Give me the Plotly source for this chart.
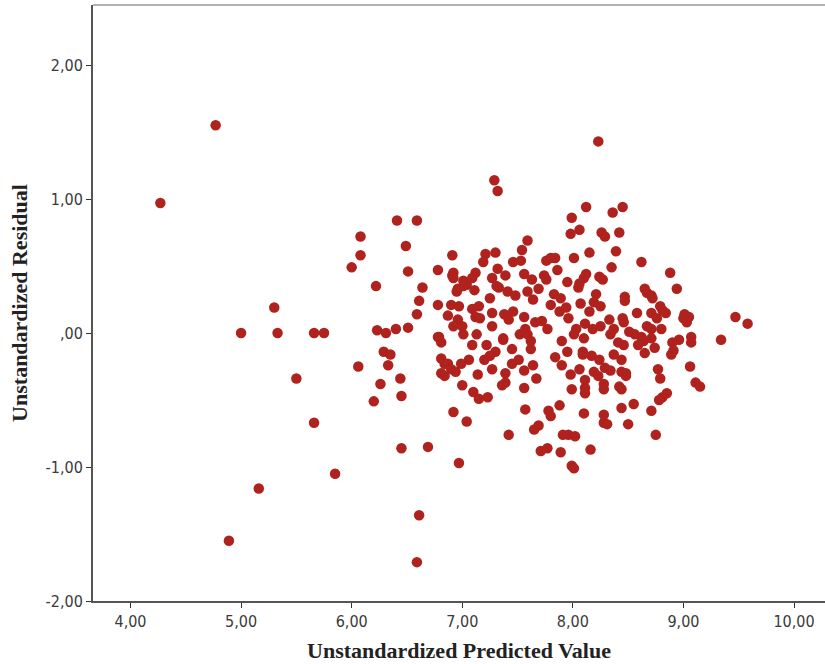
import plotly.graph_objects as go

predicted = [
    4.27, 4.77, 5.00, 5.30, 5.33, 5.66, 5.75, 5.50, 5.66, 5.85, 5.16, 4.89, 6.61, 6.59,
    8.23, 7.29, 7.32, 9.58, 9.47, 9.34, 6.97, 6.69, 6.45,
    6.00, 6.08, 6.08, 6.41, 6.59, 6.49, 6.22, 6.51, 6.64, 6.61, 6.59, 6.51, 6.40, 6.23, 6.31,
    6.06, 6.29, 6.35, 6.33, 6.26, 6.44, 6.45, 6.20,
    8.12, 8.45, 8.36, 7.99, 8.06, 7.98, 8.26, 8.29, 8.42, 7.59, 7.54, 8.39, 8.15, 8.01, 8.62,
    7.21, 7.30, 7.19, 6.91, 7.76, 7.80, 7.84, 7.46, 7.53, 6.78, 6.92, 6.92, 7.32, 7.39, 7.12,
    7.86, 8.35, 8.88, 8.12, 8.10, 8.24, 8.27, 7.74, 7.76, 7.56, 7.63, 7.27, 7.01, 7.04, 7.09,
    7.95, 8.06, 8.05, 7.69, 7.33, 6.96, 7.01, 6.95, 8.94, 8.65, 8.67, 8.71, 8.72, 8.21, 7.83,
    7.41, 7.59, 8.47, 8.47, 7.48, 7.11, 7.25, 7.64, 7.89, 7.80, 8.07, 8.19, 8.25, 6.78, 6.90,
    6.97, 7.15, 7.09, 7.27, 7.38, 7.46, 7.88, 7.94, 8.15, 8.79, 8.81, 8.84, 8.71, 9.01, 9.05,
    9.00, 9.03, 8.76, 8.58, 8.33, 8.45, 8.46, 6.87, 6.96, 7.12, 7.16, 7.42, 7.56, 7.72, 7.66,
    7.96, 8.11, 8.25, 6.92, 7.00, 7.27, 7.57, 7.77, 8.03, 8.18, 8.37, 8.51, 8.67, 8.71, 8.80,
    8.56, 8.62, 8.64, 8.71, 8.96, 9.07, 9.07, 8.90, 6.79, 6.81, 7.01, 7.13, 7.37, 7.37, 7.52,
    7.59, 7.62, 7.90, 8.01, 8.10, 8.34, 8.41, 8.46, 8.59, 8.74, 8.91, 8.89, 7.09, 7.22, 7.45,
    7.62, 7.95, 8.09, 8.09, 8.65, 8.37, 7.30, 7.25, 6.81, 6.87, 6.84, 7.06, 7.20, 7.51, 7.45,
    7.84, 8.17, 8.24, 8.44, 7.64, 6.99, 6.90, 6.94, 6.81, 6.84, 7.27, 7.56, 7.90, 8.06, 8.19,
    8.29, 8.34, 8.44, 8.48, 8.77, 9.06, 7.14, 7.39, 7.98, 8.23, 8.48, 7.67, 7.39, 8.11, 8.79,
    7.36, 7.00, 8.28, 8.42, 8.44, 9.11, 9.15, 7.56, 7.99, 8.11, 8.11, 8.28, 7.10, 7.15, 7.23,
    8.85, 8.81, 8.78, 8.55, 8.44, 7.57, 7.88, 6.92, 7.78, 7.80, 8.10, 8.28, 8.28, 8.31, 8.71,
    7.04, 8.50, 7.69, 7.65, 7.42, 7.91, 7.96, 8.02, 8.75, 7.71, 7.77, 7.89, 8.16, 7.99, 8.01,
    7.31, 6.78, 6.91,
]

residual = [
    0.97, 1.55, 0.00, 0.19, 0.00, 0.00, 0.00, -0.34, -0.67, -1.05, -1.16, -1.55, -1.36, -1.71,
    1.43, 1.14, 1.06, 0.07, 0.12, -0.05, -0.97, -0.85, -0.86,
    0.49, 0.72, 0.58, 0.84, 0.84, 0.65, 0.35, 0.46, 0.34, 0.24, 0.14, 0.04, 0.03, 0.02, 0.00,
    -0.25, -0.14, -0.16, -0.24, -0.38, -0.34, -0.47, -0.51,
    0.94, 0.94, 0.90, 0.86, 0.77, 0.74, 0.75, 0.72, 0.75, 0.69, 0.62, 0.61, 0.60, 0.56, 0.53,
    0.59, 0.60, 0.53, 0.58, 0.54, 0.56, 0.56, 0.53, 0.54, 0.47, 0.45, 0.41, 0.48, 0.43, 0.45,
    0.47, 0.49, 0.45, 0.44, 0.41, 0.42, 0.40, 0.43, 0.40, 0.44, 0.40, 0.41, 0.39, 0.36, 0.41,
    0.38, 0.37, 0.34, 0.33, 0.34, 0.33, 0.35, 0.31, 0.33, 0.33, 0.30, 0.28, 0.26, 0.29, 0.29,
    0.31, 0.31, 0.27, 0.24, 0.28, 0.32, 0.26, 0.25, 0.26, 0.21, 0.22, 0.23, 0.20, 0.21, 0.21,
    0.20, 0.20, 0.18, 0.15, 0.14, 0.16, 0.16, 0.19, 0.16, 0.20, 0.17, 0.15, 0.15, 0.14, 0.12,
    0.11, 0.08, 0.11, 0.15, 0.10, 0.11, 0.08, 0.13, 0.10, 0.12, 0.11, 0.10, 0.12, 0.09, 0.08,
    0.11, 0.07, 0.05, 0.05, 0.05, 0.05, 0.03, 0.03, 0.03, 0.03, 0.03, 0.01, 0.05, 0.03, 0.03,
    -0.01, -0.03, -0.06, -0.04, -0.05, -0.03, -0.07, -0.07, -0.03, -0.07, -0.01, -0.01, -0.04, -0.05, -0.01,
    -0.01, -0.06, -0.06, -0.01, -0.04, -0.01, -0.07, -0.09, -0.09, -0.11, -0.13, -0.16, -0.09, -0.09, -0.12,
    -0.12, -0.14, -0.14, -0.16, -0.15, -0.16, -0.14, -0.17, -0.19, -0.23, -0.23, -0.20, -0.20, -0.20, -0.23,
    -0.18, -0.17, -0.20, -0.20, -0.24, -0.23, -0.27, -0.29, -0.30, -0.32, -0.27, -0.28, -0.24, -0.27, -0.29,
    -0.26, -0.28, -0.29, -0.30, -0.27, -0.25, -0.31, -0.30, -0.31, -0.32, -0.32, -0.34, -0.37, -0.35, -0.34,
    -0.39, -0.39, -0.38, -0.40, -0.42, -0.37, -0.40, -0.41, -0.42, -0.41, -0.45, -0.42, -0.44, -0.49, -0.48,
    -0.45, -0.48, -0.50, -0.53, -0.56, -0.57, -0.54, -0.59, -0.58, -0.62, -0.60, -0.61, -0.67, -0.68, -0.58,
    -0.66, -0.68, -0.69, -0.72, -0.76, -0.76, -0.76, -0.77, -0.76, -0.88, -0.86, -0.89, -0.87, -0.99, -1.01,
    0.35, -0.03, 0.43,
]

x_tick_vals = [4, 5, 6, 7, 8, 9, 10]
x_tick_text = ["4,00", "5,00", "6,00", "7,00", "8,00", "9,00", "10,00"]
y_tick_vals = [2, 1, 0, -1, -2]
y_tick_text = ["2,00", "1,00", ",00", "-1,00", "-2,00"]

fig = go.Figure()
fig.add_trace(go.Scatter(
    x=predicted, y=residual, mode="markers",
    marker=dict(color="#B0221E", size=10.5, line=dict(width=0)),
    showlegend=False, cliponaxis=False,
))

tick_font = dict(family="Liberation Sans Narrow, DejaVu Sans Condensed, Arial Narrow, sans-serif",
                 size=16, color="#3a3a3a")
title_font = dict(family="Liberation Serif, Times New Roman, serif", size=22, color="#222222")

fig.update_layout(
    width=825, height=664,
    margin=dict(l=93, r=0, t=5, b=63),
    paper_bgcolor="white", plot_bgcolor="white",
    xaxis=dict(
        range=[3.661, 10.28], tickvals=x_tick_vals, ticktext=x_tick_text,
        ticks="outside", ticklen=5, tickcolor="#333333", tickwidth=1,
        showgrid=False, zeroline=False, automargin=False,
        showline=True, linecolor="#555555", linewidth=2, mirror=False,
        tickfont=tick_font,
        title=dict(text="<b>Unstandardized Predicted Value</b>", font=title_font, standoff=12),
    ),
    yaxis=dict(
        range=[-2.0, 2.448], tickvals=y_tick_vals, ticktext=y_tick_text,
        ticks="outside", ticklen=5, tickcolor="#333333", tickwidth=1,
        showgrid=False, zeroline=False, automargin=False,
        showline=True, linecolor="#555555", linewidth=2, mirror=False,
        tickfont=tick_font,
        title=dict(text="<b>Unstandardized Residual</b>", font=title_font, standoff=12),
    ),
    shapes=[
        dict(type="line", xref="paper", yref="paper", x0=0, x1=1, y0=1, y1=1,
             line=dict(color="#999999", width=1.5)),
    ],
)

fig.write_html("out.html", config={"displayModeBar": False},
               post_script="document.body.style.margin='0px';")
